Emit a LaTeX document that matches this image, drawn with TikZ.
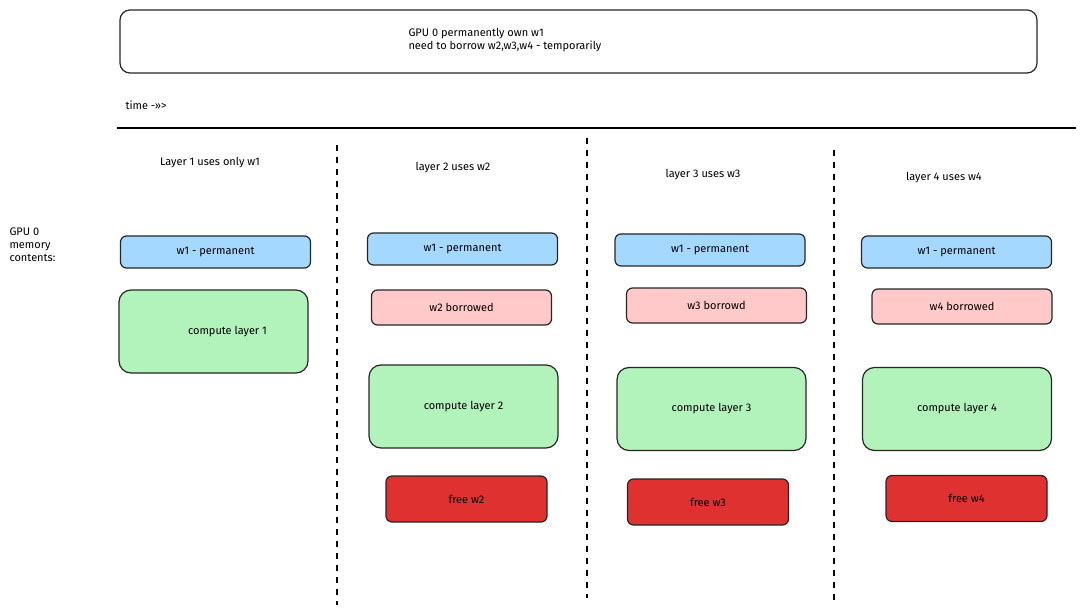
\documentclass[tikz,border=0pt]{standalone}
\usepackage{fontspec}
\setmainfont{Fira Sans}
\usetikzlibrary{positioning}
\definecolor{wblue}{HTML}{A5D8FF}
\definecolor{wpink}{HTML}{FFC9C9}
\definecolor{wgreen}{HTML}{B2F2BB}
\definecolor{wred}{HTML}{E03131}
\tikzset{
  box/.style={draw=black!85, line width=1.2pt, rounded corners=6pt, font=\fontsize{11}{13}\selectfont},
  perm/.style={box, fill=wblue, minimum width=190pt, minimum height=32pt},
  borrow/.style={box, fill=wpink, minimum width=180pt, minimum height=35pt},
  comp/.style={box, fill=wgreen, rounded corners=12pt, minimum width=189pt, minimum height=83pt},
  free/.style={box, fill=wred, minimum width=161pt, minimum height=46pt},
  lbl/.style={font=\fontsize{11}{13}\selectfont, align=left},
  sep/.style={line width=1.2pt, dash pattern=on 6pt off 6pt}
}
\begin{document}
\begin{tikzpicture}[x=1pt, y=-1pt]
  \useasboundingbox (0,0) rectangle (1086,612);
  \node[box, fill=white, rounded corners=10pt, minimum width=917pt, minimum height=63pt] (goal) at (578.5,41.5) {};
  \node[lbl, anchor=west] (goaltxt) at (405,40) {GPU 0 permanently own w1\\need to borrow w2,w3,w4 - temporarily};
  \node[lbl, anchor=west] (time) at (122,105) {time ->>>};
  \coordinate (tl) at (117,128);
  \coordinate (tr) at (1076,128);
  \draw[line width=1.5pt] (tl) -- (tr);

  % column separators
  \coordinate (s1a) at (337,145); \coordinate (s1b) at (337,605);
  \coordinate (s2a) at (587,138); \coordinate (s2b) at (587,598);
  \coordinate (s3a) at (834,150); \coordinate (s3b) at (834,605);
  \draw[sep] (s1a) -- (s1b);
  \draw[sep] (s2a) -- (s2b);
  \draw[sep] (s3a) -- (s3b);

  \node[lbl] (h1) at (210,163) {Layer 1 uses only w1};
  \node[lbl] (h2) at (453,168) {layer 2 uses w2};
  \node[lbl] (h3) at (703,175) {layer 3 uses w3};
  \node[lbl] (h4) at (944,178) {layer 4 uses w4};
  \node[lbl, anchor=north west] (gpu) at (6,224) {GPU 0\\memory\\contents:};

  % layer 1
  \node[perm] (p1) at (215.5,252) {w1 - permanent};
  \node[comp] (c1) at (213.5,331.5) {\hspace*{28pt}compute layer 1};
  % layer 2
  \node[perm] (p2) at (462.5,249) {w1 - permanent};
  \node[borrow] (b2) at (461.5,307.5) {w2 borrowed};
  \node[comp] (c2) at (463.5,406.5) {compute layer 2};
  \node[free] (f2) at (466.5,499) {free w2};
  % layer 3
  \node[perm] (p3) at (710,250) {w1 - permanent};
  \node[borrow] (b3) at (716.5,305.5) {w3 borrowd};
  \node[comp] (c3) at (711.5,409) {compute layer 3};
  \node[free] (f3) at (708,502) {free w3};
  % layer 4
  \node[perm] (p4) at (956.5,252) {w1 - permanent};
  \node[borrow] (b4) at (962,306.5) {w4 borrowed};
  \node[comp] (c4) at (957,409) {compute layer 4};
  \node[free] (f4) at (966.5,498.5) {free w4};
\end{tikzpicture}
\end{document}
